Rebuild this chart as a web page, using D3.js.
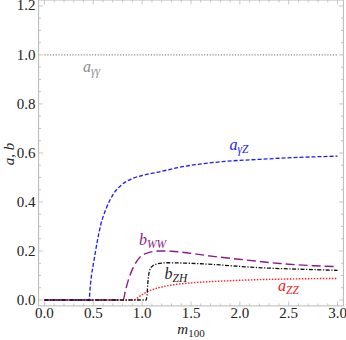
<!DOCTYPE html>
<html>
<head>
<meta charset="utf-8">
<script src="https://cdn.jsdelivr.net/npm/d3@7"></script>
<style>
  body { margin: 0; background: #fff; }
</style>
</head>
<body>
<script>
// values: [m100, value]
const aGG = [[0, 1.0], [3.0, 1.0]];
const aGZ = [[0, 0], [0.456, 0], [0.47, 0.06], [0.483, 0.105], [0.5, 0.145], [0.541, 0.24],
  [0.575, 0.305], [0.637, 0.378], [0.705, 0.432], [0.79, 0.47], [0.89, 0.494], [1.0, 0.508],
  [1.18, 0.523], [1.35, 0.539], [1.524, 0.551], [1.866, 0.566], [2.206, 0.574],
  [2.547, 0.581], [3.0, 0.587]];
const aZZ = [[0, 0], [0.92, 0], [0.96, 0.011], [1.0, 0.022], [1.06, 0.035], [1.16, 0.049],
  [1.3, 0.061], [1.5, 0.07], [1.8, 0.077], [2.1, 0.082], [2.4, 0.085], [2.7, 0.087], [3.0, 0.088]];
const bWW = [[0, 0], [0.805, 0], [0.83, 0.04], [0.858, 0.08], [0.909, 0.133], [0.978, 0.175],
  [1.063, 0.193], [1.165, 0.2], [1.3, 0.199], [1.472, 0.192], [1.728, 0.178], [2.07, 0.163],
  [2.41, 0.149], [2.75, 0.14], [3.0, 0.136]];
const bZH = [[0, 0], [1.04, 0], [1.05, 0.02], [1.058, 0.07], [1.066, 0.1], [1.08, 0.124],
  [1.11, 0.14], [1.16, 0.148], [1.25, 0.152], [1.4, 0.151], [1.6, 0.148], [1.8, 0.143],
  [2.0, 0.137], [2.25, 0.131], [2.5, 0.127], [2.75, 0.124], [3.0, 0.121]];

const xTicks = [0, 0.5, 1.0, 1.5, 2.0, 2.5, 3.0];
const yTicks = [0, 0.2, 0.4, 0.6, 0.8, 1.0, 1.2];

const w = 346, h = 340;
const serif = "'Liberation Serif'";
const x = d3.scaleLinear().domain([-0.06, 3.06]).range([38.6, 343.4]);
const y = d3.scaleLinear().domain([-0.024, 1.224]).range([305.9, 0]);

const svg = d3.select("body").append("svg")
  .attr("width", w).attr("height", h);

const frameCol = "#b8b8b8";
const [x0, x1] = x.range();
const [y0, y1] = y.range();

// minor / major ticks on all four sides
const xMinor = d3.range(0, 3.001, 0.1);
const yMinor = d3.range(0, 1.201, 0.05);
const ticks = svg.append("g").attr("stroke", frameCol).attr("stroke-width", 0.8);
xMinor.forEach(v => {
  const major = xTicks.some(t => Math.abs(t - v) < 1e-6);
  const len = major ? 4.5 : 2.5;
  ticks.append("line").attr("x1", x(v)).attr("x2", x(v)).attr("y1", y0).attr("y2", y0 - len);
  ticks.append("line").attr("x1", x(v)).attr("x2", x(v)).attr("y1", y1).attr("y2", y1 + len);
});
yMinor.forEach(v => {
  const major = yTicks.some(t => Math.abs(t - v) < 1e-6);
  const len = major ? 4.5 : 2.5;
  ticks.append("line").attr("y1", y(v)).attr("y2", y(v)).attr("x1", x0).attr("x2", x0 + len);
  ticks.append("line").attr("y1", y(v)).attr("y2", y(v)).attr("x1", x1).attr("x2", x1 - len);
});

svg.append("rect")
  .attr("x", x0).attr("y", y1).attr("width", x1 - x0).attr("height", y0 - y1)
  .attr("fill", "none").attr("stroke", frameCol).attr("stroke-width", 1);

svg.append("g").selectAll("text").data(xTicks).enter().append("text")
  .attr("x", d => x(d)).attr("y", 317.5)
  .attr("font-family", serif)
  .attr("text-anchor", "middle").attr("font-size", 15).attr("fill", "#222")
  .text(d => d.toFixed(1));

svg.append("g").selectAll("text").data(yTicks).enter().append("text")
  .attr("x", 35.5).attr("y", d => y(d) + 4.6)
  .attr("font-family", serif)
  .attr("text-anchor", "end").attr("font-size", 15).attr("fill", "#222")
  .text(d => d.toFixed(1));

// axis titles
const xt = svg.append("text").attr("x", 191).attr("y", 334)
  .attr("font-family", serif)
  .attr("text-anchor", "middle").attr("font-size", 15).attr("fill", "#222");
xt.append("tspan").attr("font-style", "italic").text("m");
xt.append("tspan").attr("font-size", 11).attr("dy", 3).text("100");

svg.append("text")
  .attr("transform", "translate(14,154) rotate(-90)")
  .attr("font-family", serif)
  .attr("text-anchor", "middle").attr("font-size", 15).attr("fill", "#222")
  .attr("font-style", "italic").text("a, b");

const line = d3.line().x(d => x(d[0])).y(d => y(d[1])).curve(d3.curveMonotoneX);

const series = [
  { data: aGG, color: "#888888", dash: "1.2,1.6", width: 1.2 },
  { data: aGZ, color: "#1a1aff", dash: "4,2", width: 1.3 },
  { data: aZZ, color: "#ff1a1a", dash: "1.5,1.5", width: 1.4 },
  { data: bWW, color: "#8a1a8a", dash: "9,4", width: 1.4 },
  { data: bZH, color: "#111111", dash: "4,1.6,1.2,1.6", width: 1.3 }
];
svg.append("g").selectAll("path").data(series).enter().append("path")
  .attr("d", d => line(d.data))
  .attr("fill", "none")
  .attr("stroke", d => d.color)
  .attr("stroke-width", d => d.width)
  .attr("stroke-dasharray", d => d.dash);

// curve labels
const labels = [
  { x: 83, y: 72, main: "a", sub: "γγ", color: "#8c8c8c" },
  { x: 229.5, y: 150, main: "a", sub: "γZ", color: "#2222ee" },
  { x: 139, y: 245, main: "b", sub: "WW", color: "#8a1a8a" },
  { x: 164.5, y: 279, main: "b", sub: "ZH", color: "#222" },
  { x: 278, y: 291, main: "a", sub: "ZZ", color: "#ee2222" }
];
labels.forEach(l => {
  const t = svg.append("text").attr("x", l.x).attr("y", l.y)
    .attr("font-family", serif)
    .attr("font-size", 16).attr("font-style", "italic").attr("fill", l.color);
  t.append("tspan").text(l.main);
  t.append("tspan").attr("font-size", 11.5).attr("dy", 3).text(l.sub);
});
</script>
</body>
</html>
